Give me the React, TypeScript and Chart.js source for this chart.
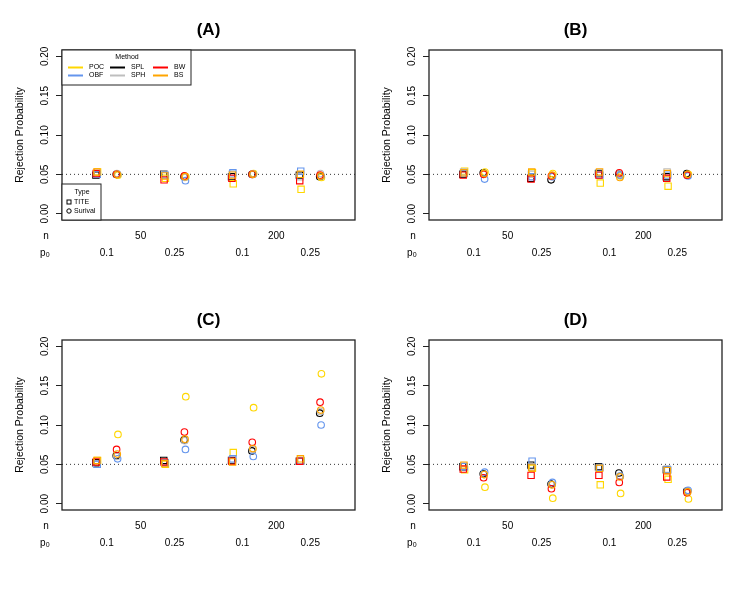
import React, { useEffect, useRef } from "react";
import { Chart, registerables } from "chart.js";
Chart.register(...registerables);

// ---------- data ----------
const METHODS = ["POC", "OBF", "SPL", "SPH", "BW", "BS"];
const METHOD_COLORS = ["#FFD700", "#6495ED", "#000000", "#BEBEBE", "#FF0000", "#FFA500"];
const GROUP_X = [1, 2, 3, 4];
const P0_LABELS = ["0.1", "0.25", "0.1", "0.25"];
const N_POS = [1.5, 3.5];
const N_LABELS = ["50", "200"];
const Y_TICKS = [0, 0.05, 0.1, 0.15, 0.2];
const NOMINAL = 0.05;

// rows: POC, OBF, SPL, SPH, BW, BS ; columns: 4 scenario groups
const A_TITE = [
  [0.053, 0.045, 0.038, 0.031],
  [0.050, 0.049, 0.052, 0.054],
  [0.049, 0.050, 0.047, 0.049],
  [0.051, 0.050, 0.050, 0.047],
  [0.051, 0.043, 0.045, 0.042],
  [0.053, 0.048, 0.049, 0.050],
];
const A_SURV = [
  [0.049, 0.047, 0.051, 0.046],
  [0.050, 0.042, 0.050, 0.048],
  [0.050, 0.047, 0.050, 0.047],
  [0.051, 0.046, 0.050, 0.051],
  [0.050, 0.048, 0.050, 0.049],
  [0.050, 0.047, 0.050, 0.048],
];
const B_TITE = [
  [0.054, 0.052, 0.039, 0.035],
  [0.051, 0.047, 0.049, 0.049],
  [0.050, 0.045, 0.051, 0.047],
  [0.053, 0.050, 0.052, 0.053],
  [0.049, 0.044, 0.049, 0.045],
  [0.052, 0.053, 0.053, 0.051],
];
const B_SURV = [
  [0.053, 0.051, 0.048, 0.050],
  [0.044, 0.047, 0.049, 0.048],
  [0.052, 0.043, 0.050, 0.051],
  [0.050, 0.047, 0.050, 0.049],
  [0.050, 0.048, 0.052, 0.049],
  [0.051, 0.049, 0.046, 0.050],
];
const C_TITE = [
  [0.055, 0.050, 0.065, 0.055],
  [0.050, 0.052, 0.057, 0.054],
  [0.052, 0.055, 0.055, 0.054],
  [0.050, 0.053, 0.056, 0.055],
  [0.053, 0.053, 0.054, 0.054],
  [0.055, 0.051, 0.053, 0.057],
];
const C_SURV = [
  [0.088, 0.136, 0.122, 0.165],
  [0.057, 0.069, 0.060, 0.100],
  [0.061, 0.081, 0.067, 0.115],
  [0.060, 0.080, 0.069, 0.117],
  [0.069, 0.091, 0.078, 0.129],
  [0.063, 0.082, 0.070, 0.119],
];
const D_TITE = [
  [0.043, 0.045, 0.024, 0.031],
  [0.047, 0.054, 0.046, 0.043],
  [0.047, 0.049, 0.047, 0.043],
  [0.048, 0.047, 0.045, 0.044],
  [0.044, 0.036, 0.036, 0.034],
  [0.049, 0.046, 0.045, 0.042],
];
const D_SURV = [
  [0.021, 0.007, 0.013, 0.006],
  [0.040, 0.027, 0.035, 0.017],
  [0.038, 0.025, 0.039, 0.016],
  [0.037, 0.024, 0.035, 0.016],
  [0.033, 0.019, 0.027, 0.014],
  [0.037, 0.024, 0.034, 0.015],
];

// ---------- layout / style ----------
const X_MIN = 0.34;
const X_MAX = 4.66;
const Y_MIN = -0.008;
const Y_MAX = 0.208;
const TYPE_SHIFT = 0.15;
const METHOD_JIT = [0.015, 0.01, -0.01, 0, -0.005, 0.005];
const FONT = "'Liberation Sans', Arial, Helvetica, sans-serif";
const PANEL_W = 367;
const PANEL_H = 290;
const N_AXIS_H = 24;
const P_AXIS_H = 46;

const decorPlugin = {
  id: "decor",
  afterDraw(chart: any, _args: any, opts: any) {
    const { ctx, chartArea: ca, scales } = chart;
    ctx.save();
    // box
    ctx.strokeStyle = "#222";
    ctx.lineWidth = 1.3;
    ctx.strokeRect(ca.left, ca.top, ca.right - ca.left, ca.bottom - ca.top);

    // row labels n / p0
    ctx.fillStyle = "#000";
    ctx.font = `10px ${FONT}`;
    ctx.textBaseline = "middle";
    ctx.textAlign = "center";
    const yN = scales.x.top + 10 + 6;
    const yP = scales.xp.top + 3 + 6;
    ctx.fillText("n", 46, yN);
    ctx.textAlign = "left";
    ctx.fillText("p", 40, yP);
    const pw = ctx.measureText("p").width;
    ctx.font = `7px ${FONT}`;
    ctx.fillText("0", 40 + pw + 0.3, yP + 2);

    if (opts && opts.legend) {
      // Method legend
      const L = ca.left, T = ca.top;
      ctx.fillStyle = "#fff";
      ctx.fillRect(L, T, 129, 35);
      ctx.strokeStyle = "#222";
      ctx.lineWidth = 1;
      ctx.strokeRect(L, T, 129, 35);
      ctx.fillStyle = "#000";
      ctx.font = `7px ${FONT}`;
      ctx.textAlign = "center";
      ctx.fillText("Method", L + 65, T + 7);
      const cols = [6, 48, 91];
      const rows = [17.5, 25.5];
      const layout = [[0, 1], [2, 3], [4, 5]];
      ctx.textAlign = "left";
      layout.forEach((pair, c) => {
        pair.forEach((mi, r) => {
          const y = T + rows[r];
          ctx.strokeStyle = METHOD_COLORS[mi];
          ctx.lineWidth = 2;
          ctx.beginPath();
          ctx.moveTo(L + cols[c], y);
          ctx.lineTo(L + cols[c] + 15, y);
          ctx.stroke();
          ctx.fillStyle = "#000";
          ctx.fillText(METHODS[mi], L + cols[c] + 21, y);
        });
      });

      // Type legend
      const B = ca.bottom;
      ctx.fillStyle = "#fff";
      ctx.fillRect(L, B - 36, 39, 36);
      ctx.strokeStyle = "#222";
      ctx.lineWidth = 1;
      ctx.strokeRect(L, B - 36, 39, 36);
      ctx.fillStyle = "#000";
      ctx.textAlign = "center";
      ctx.fillText("Type", L + 20, B - 28);
      ctx.textAlign = "left";
      ctx.strokeStyle = "#000";
      ctx.lineWidth = 1;
      ctx.strokeRect(L + 5, B - 20, 4, 4);
      ctx.beginPath();
      ctx.arc(L + 7, B - 9, 2.2, 0, Math.PI * 2);
      ctx.stroke();
      ctx.fillText("TITE", L + 12, B - 18);
      ctx.fillText("Surival", L + 12, B - 9);
    }
    ctx.restore();
  },
};

function buildConfig(title: string, tite: number[][], surv: number[][], legend: boolean): any {
  const datasets: any[] = [];
  datasets.push({
    type: "line",
    data: [
      { x: X_MIN, y: NOMINAL },
      { x: X_MAX, y: NOMINAL },
    ],
    borderColor: "#333",
    borderWidth: 1,
    borderDash: [1, 3],
    pointRadius: 0,
    order: 100,
  });
  const drawOrder = [4, 2, 5, 3, 1, 0];
  METHODS.forEach((m, i) => {
    datasets.push({
      type: "scatter",
      label: m + " Survival",
      data: surv[i].map((v, g) => ({ x: GROUP_X[g] + TYPE_SHIFT + METHOD_JIT[i], y: v })),
      pointStyle: "circle",
      pointRadius: 3.3,
      borderColor: METHOD_COLORS[i],
      backgroundColor: "rgba(0,0,0,0)",
      borderWidth: 1.1,
      order: drawOrder[i] + 1,
    });
    datasets.push({
      type: "scatter",
      label: m + " TITE",
      data: tite[i].map((v, g) => ({ x: GROUP_X[g] - TYPE_SHIFT + METHOD_JIT[i], y: v })),
      pointStyle: "rect",
      pointRadius: 4.5,
      borderColor: METHOD_COLORS[i],
      backgroundColor: "rgba(0,0,0,0)",
      borderWidth: 1.1,
      order: drawOrder[i] + 1,
    });
  });

  const tickFont = { family: FONT, size: 10 };
  return {
    type: "scatter",
    data: { datasets },
    plugins: [decorPlugin],
    options: {
      responsive: false,
      animation: false,
      devicePixelRatio: 1,
      layout: { padding: { left: 0, right: 12, top: 0, bottom: 0 } },
      plugins: {
        legend: { display: false },
        tooltip: { enabled: false },
        title: {
          display: true,
          text: title,
          fullSize: false,
          color: "#000",
          font: { family: FONT, size: 17, weight: "bold", lineHeight: 1.2 },
          padding: { top: 20, bottom: 9.6 },
        },
        decor: { legend },
      },
      scales: {
        x: {
          type: "linear",
          axis: "x",
          position: "bottom",
          weight: 0,
          min: X_MIN,
          max: X_MAX,
          grid: { display: false, drawTicks: false },
          border: { display: false },
          afterBuildTicks: (s: any) => {
            s.ticks = N_POS.map((v) => ({ value: v }));
          },
          ticks: {
            autoSkip: false,
            maxRotation: 0,
            minRotation: 0,
            padding: 10,
            color: "#000",
            font: tickFont,
            callback: (_v: any, idx: number) => N_LABELS[idx],
          },
          afterFit: (s: any) => {
            s.height = N_AXIS_H;
          },
        },
        xp: {
          type: "linear",
          axis: "x",
          position: "bottom",
          weight: 1,
          min: X_MIN,
          max: X_MAX,
          grid: { display: false, drawTicks: false },
          border: { display: false },
          afterBuildTicks: (s: any) => {
            s.ticks = GROUP_X.map((v) => ({ value: v }));
          },
          ticks: {
            autoSkip: false,
            maxRotation: 0,
            minRotation: 0,
            padding: 3,
            color: "#000",
            font: tickFont,
            callback: (_v: any, idx: number) => P0_LABELS[idx],
          },
          afterFit: (s: any) => {
            s.height = P_AXIS_H;
          },
        },
        y: {
          type: "linear",
          position: "left",
          min: Y_MIN,
          max: Y_MAX,
          afterBuildTicks: (s: any) => {
            s.ticks = Y_TICKS.map((v) => ({ value: v }));
          },
          ticks: {
            autoSkip: false,
            minRotation: 90,
            maxRotation: 90,
            crossAlign: "center",
            padding: 1,
            color: "#000",
            font: tickFont,
            callback: (v: any) => Number(v).toFixed(2),
          },
          grid: {
            drawOnChartArea: false,
            drawTicks: true,
            tickLength: 6,
            color: "#222",
            lineWidth: 1,
          },
          border: { display: false },
          title: {
            display: true,
            text: "Rejection Probability",
            color: "#000",
            font: { family: FONT, size: 10.5 },
            padding: { top: 14, bottom: 0 },
          },
          afterFit: (s: any) => {
            s.width = 62;
          },
        },
      },
    },
  };
}

function Panel(props: { title: string; tite: number[][]; surv: number[][]; legend: boolean; left: number; top: number }) {
  const ref = useRef<HTMLCanvasElement | null>(null);
  useEffect(() => {
    if (!ref.current) return;
    const chart = new Chart(ref.current, buildConfig(props.title, props.tite, props.surv, props.legend));
    return () => chart.destroy();
  }, []);
  return (
    <div style={{ position: "absolute", left: props.left, top: props.top, width: PANEL_W, height: PANEL_H }}>
      <canvas ref={ref} width={PANEL_W} height={PANEL_H} style={{ width: PANEL_W, height: PANEL_H, display: "block" }} />
    </div>
  );
}

export default function App() {
  return (
    <div style={{ position: "absolute", left: 0, top: 0, width: 753, height: 603, background: "#fff" }}>
      <Panel title="(A)" tite={A_TITE} surv={A_SURV} legend={true} left={0} top={0} />
      <Panel title="(B)" tite={B_TITE} surv={B_SURV} legend={false} left={367} top={0} />
      <Panel title="(C)" tite={C_TITE} surv={C_SURV} legend={false} left={0} top={290} />
      <Panel title="(D)" tite={D_TITE} surv={D_SURV} legend={false} left={367} top={290} />
    </div>
  );
}
